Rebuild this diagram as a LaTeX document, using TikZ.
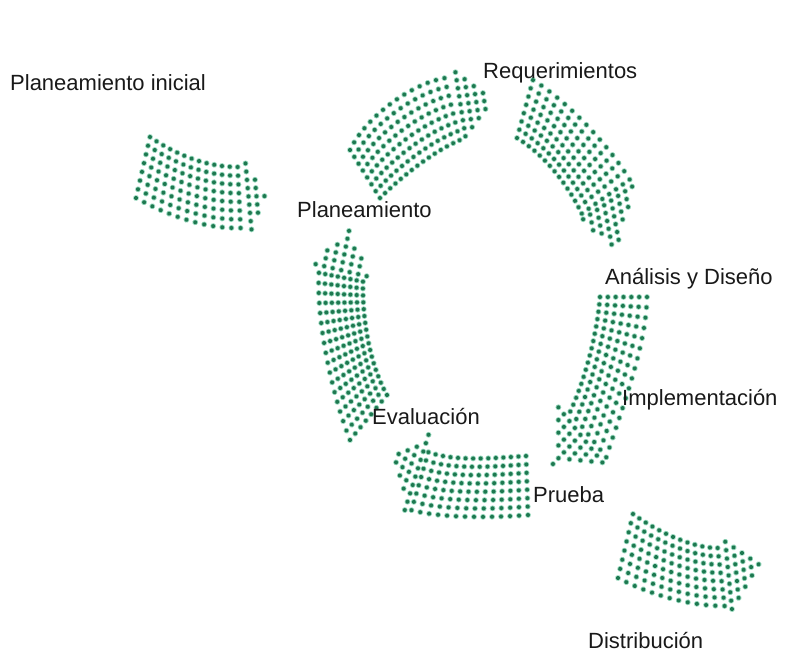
\documentclass[tikz,border=0pt]{standalone}
\usepackage{fontspec}
\setmainfont{Liberation Sans}
\usetikzlibrary{calc,decorations.markings}

\definecolor{dotcore}{RGB}{30,120,80}
\definecolor{dothalo}{RGB}{150,215,188}
\definecolor{labeltext}{RGB}{25,25,25}

\tikzset{
  label text/.style={font=\fontsize{22}{26}\selectfont, text=labeltext,
    inner sep=0pt, anchor=base west},
}

% one dot of the halftone fill
\newcommand\dotmark{\fill[dothalo] (0,0) circle (2.9);\fill[dotcore] (0,0) circle (2.0);}

% rows of dots across the curved band of an arrow:
% #1 arrow prefix, #2 number of row gaps, #3 number of dot gaps per row
\newcommand\bandrows[3]{%
  \pgfmathsetmacro\bandstep{1/#3-0.0003}%
  \foreach \rowk in {0,...,#2}{%
    \pgfmathsetmacro\rowfrac{\rowk/#2}%
    \path[decorate, decoration={markings,
        mark=between positions 0 and 1 step \bandstep with {\dotmark}}]
      ($(#1-A)!\rowfrac!(#1-D)$) .. controls ($(#1-a)!\rowfrac!(#1-d)$)
        and ($(#1-b)!\rowfrac!(#1-e)$) .. ($(#1-B)!\rowfrac!(#1-C)$);
  }}

% rows of dots inside the triangular head H-T-G:
% #1 arrow prefix, #2 number of row gaps along the base H-G
\newcommand\headrows[2]{%
  \pgfmathtruncatemacro\headlast{#2-1}%
  \foreach \headj in {1,...,\headlast}{%
    \pgfmathsetmacro\headfrac{\headj/#2}%
    \ifdim\headfrac pt<0.5pt
      \pgfmathsetmacro\edgefrac{2*\headfrac}%
      \path[decorate, decoration={markings,
          mark=between positions 6pt and -1pt step 8pt with {\dotmark}}]
        ($(#1-H)!\headfrac!(#1-G)$) -- ($(#1-H)!\edgefrac!(#1-T)$);
    \else
      \pgfmathsetmacro\edgefrac{2*\headfrac-1}%
      \path[decorate, decoration={markings,
          mark=between positions 6pt and -1pt step 8pt with {\dotmark}}]
        ($(#1-H)!\headfrac!(#1-G)$) -- ($(#1-T)!\edgefrac!(#1-G)$);
    \fi
  }}

\begin{document}
\begin{tikzpicture}[x=1pt,y=-1pt]
\fill[white] (0,0) rectangle (812,656);
\useasboundingbox (0,0) rectangle (812,656);

% ---- Planeamiento inicial (entry arrow)
\coordinate (ini-A) at (150,137); \coordinate (ini-a) at (175,154);
\coordinate (ini-b) at (205,167); \coordinate (ini-B) at (238,167);
\coordinate (ini-D) at (136,198); \coordinate (ini-d) at (162,212);
\coordinate (ini-e) at (200,229); \coordinate (ini-C) at (241,228);
\coordinate (ini-H) at (238,147); \coordinate (ini-T) at (268,196);
\coordinate (ini-G) at (247,246);

% ---- Planeamiento -> Requerimientos
\coordinate (req-A) at (350,150); \coordinate (req-a) at (365,118);
\coordinate (req-b) at (410,84);  \coordinate (req-B) at (445,78);
\coordinate (req-D) at (380,198); \coordinate (req-d) at (400,178);
\coordinate (req-e) at (432,152); \coordinate (req-C) at (460,140);
\coordinate (req-H) at (447,57);  \coordinate (req-T) at (492,100);
\coordinate (req-G) at (462,153);

% ---- Requerimientos -> Analisis y Diseno
\coordinate (ana-A) at (533,80);  \coordinate (ana-a) at (565,100);
\coordinate (ana-b) at (605,140); \coordinate (ana-B) at (630,180);
\coordinate (ana-D) at (517,138); \coordinate (ana-d) at (545,155);
\coordinate (ana-e) at (568,185); \coordinate (ana-C) at (582,214);
\coordinate (ana-H) at (638,176); \coordinate (ana-T) at (617,252);
\coordinate (ana-G) at (575,218);

% ---- Analisis y Diseno -> Implementacion
\coordinate (imp-A) at (600,297); \coordinate (imp-a) at (597,335);
\coordinate (imp-b) at (585,380); \coordinate (imp-B) at (570,412);
\coordinate (imp-D) at (647,297); \coordinate (imp-d) at (646,345);
\coordinate (imp-e) at (625,400); \coordinate (imp-C) at (606,458);
\coordinate (imp-H) at (557,396); \coordinate (imp-T) at (552,465);
\coordinate (imp-G) at (612,465);

% ---- Prueba -> Evaluacion
\coordinate (pru-A) at (526,456); \coordinate (pru-a) at (495,458);
\coordinate (pru-b) at (455,462); \coordinate (pru-B) at (428,452);
\coordinate (pru-D) at (528,515); \coordinate (pru-d) at (490,518);
\coordinate (pru-e) at (440,518); \coordinate (pru-C) at (411,510);
\coordinate (pru-H) at (436,430); \coordinate (pru-T) at (389,452);
\coordinate (pru-G) at (407,522);

% ---- Evaluacion -> Planeamiento
\coordinate (eva-A) at (387,395); \coordinate (eva-a) at (370,365);
\coordinate (eva-b) at (362,320); \coordinate (eva-B) at (363,281);
\coordinate (eva-D) at (350,440); \coordinate (eva-d) at (332,395);
\coordinate (eva-e) at (316,320); \coordinate (eva-C) at (319,272);
\coordinate (eva-H) at (374,284); \coordinate (eva-T) at (350,226);
\coordinate (eva-G) at (306,268);

% ---- Distribucion (exit arrow)
\coordinate (dis-A) at (633,514); \coordinate (dis-a) at (655,530);
\coordinate (dis-b) at (690,548); \coordinate (dis-B) at (718,548);
\coordinate (dis-D) at (618,578); \coordinate (dis-d) at (645,592);
\coordinate (dis-e) at (685,606); \coordinate (dis-C) at (725,606);
\coordinate (dis-H) at (718,527); \coordinate (dis-T) at (762,563);
\coordinate (dis-G) at (728,628);

% halftone fills
\bandrows{ini}{7}{12} \headrows{ini}{12}
\bandrows{req}{7}{14} \headrows{req}{12}
\bandrows{ana}{7}{14} \headrows{ana}{9}
\bandrows{imp}{6}{16} \headrows{imp}{10}
\bandrows{pru}{7}{13} \headrows{pru}{11}
\bandrows{eva}{7}{17} \headrows{eva}{8}
\bandrows{dis}{7}{12} \headrows{dis}{12}

% labels
\node[label text] (lbl-ini) at (10,90)  {Planeamiento inicial};
\node[label text] (lbl-req) at (483,78) {Requerimientos};
\node[label text] (lbl-pla) at (297,217) {Planeamiento};
\node[label text] (lbl-ana) at (605,284) {Análisis y Diseño};
\node[label text] (lbl-imp) at (622,405) {Implementación};
\node[label text] (lbl-eva) at (372,424) {Evaluación};
\node[label text] (lbl-pru) at (533,502) {Prueba};
\node[label text] (lbl-dis) at (588,648) {Distribución};
\end{tikzpicture}
\end{document}
